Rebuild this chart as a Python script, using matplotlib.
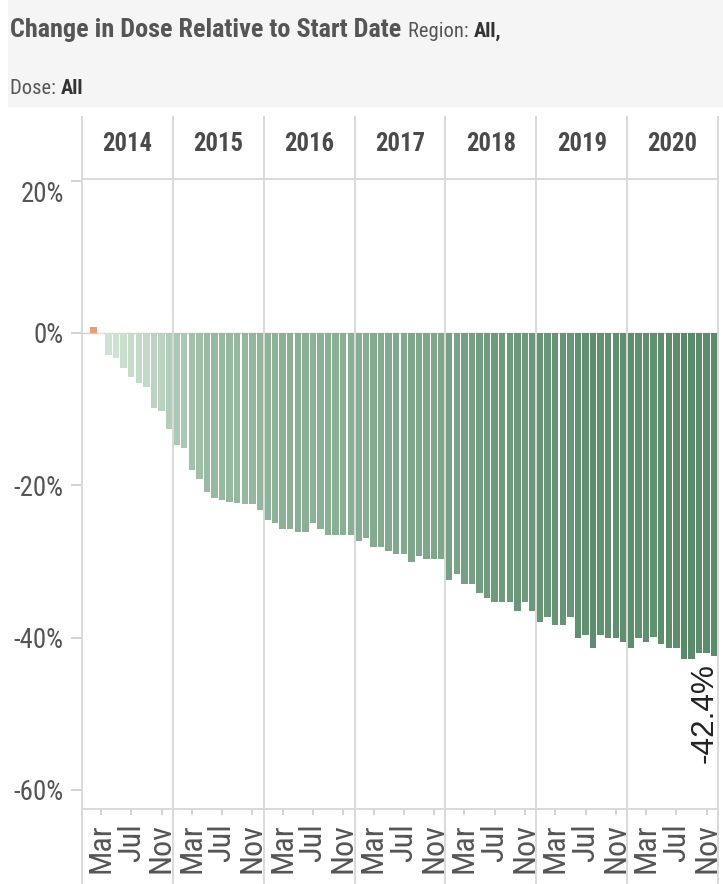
import numpy as np
import matplotlib.pyplot as plt
from matplotlib import font_manager
from matplotlib.colors import LinearSegmentedColormap, Normalize
from matplotlib.patches import Rectangle

# data: monthly change in dose vs start date (%)
years = ['2014', '2015', '2016', '2017', '2018', '2019', '2020']
month_labels = ['Mar', 'Jul', 'Nov']
month_idx = [2, 6, 10]

chg_2014 = [0.0, 0.8, -0.2, -2.9, -3.3, -4.6, -5.8, -6.6, -7.1, -9.8, -10.2, -12.6]
chg_2015 = [-14.7, -15.1, -18.0, -19.2, -20.9, -21.7, -21.9, -22.2, -22.3, -22.4, -22.4, -23.2]
chg_2016 = [-24.5, -24.9, -25.7, -25.7, -26.1, -26.1, -24.9, -25.7, -26.5, -26.5, -26.5, -26.5]
chg_2017 = [-27.3, -26.9, -28.1, -28.1, -28.6, -29.0, -29.0, -30.1, -29.3, -29.7, -29.7, -29.7]
chg_2018 = [-32.5, -31.6, -32.9, -32.9, -34.1, -34.8, -35.3, -35.3, -35.3, -36.5, -35.3, -36.5]
chg_2019 = [-38.0, -37.3, -38.4, -38.4, -37.3, -40.1, -39.6, -41.3, -39.6, -40.1, -40.1, -40.6]
chg_2020 = [-41.3, -40.1, -40.6, -39.9, -40.9, -41.4, -41.4, -42.8, -42.8, -42.0, -42.0, -42.4]

change = np.array(chg_2014 + chg_2015 + chg_2016 + chg_2017 + chg_2018 + chg_2019 + chg_2020)
n = len(change)

# fonts: prefer a narrow sans if one is installed
names = {f.name for f in font_manager.fontManager.ttflist}
fam, stretch = 'Liberation Sans', 'normal'
for c in ['Liberation Sans Narrow', 'Arial Narrow', 'Roboto Condensed',
          'Open Sans Condensed', 'Noto Sans Condensed']:
    if c in names:
        fam = c
        break
else:
    for base in ['Roboto', 'Noto Sans', 'Open Sans']:
        if any(f.name == base and f.stretch in ('condensed', 'semi-condensed')
               for f in font_manager.fontManager.ttflist):
            fam, stretch = base, 'condensed'
            break
plt.rcParams['font.family'] = [fam, 'DejaVu Sans']
plt.rcParams['font.stretch'] = stretch

W, H = 723, 884
fig = plt.figure(figsize=(W / 100, H / 100), dpi=100)
r = fig.canvas.get_renderer()


def fit(txt, target, **kw):
    # font size that gives the text the pixel width seen in the reference
    t = fig.text(0, 0, txt, fontsize=10, **kw)
    w = t.get_window_extent(r).width
    t.remove()
    return 10 * target / w


# title band
fig.patches.append(Rectangle((8 / W, 1 - 107 / H), 1, 107 / H, transform=fig.transFigure,
                             facecolor='#f5f5f5', edgecolor='none', zorder=0))

ax = fig.add_axes([82 / W, 1 - 809 / H, 636 / W, 630 / H])

cmap = LinearSegmentedColormap.from_list('grn', ['#588a69', '#d8e9da'])
norm = Normalize(-43, 0)
colors = ['#f09a78' if v > 0 else cmap(norm(v)) for v in change]

x = np.arange(n) + 0.5
ax.axhline(0, color='#cfcfcf', lw=1, zorder=1)
ax.bar(x, change, width=0.86, color=colors, zorder=2)

ax.set_xlim(0, n)
ax.set_ylim(-62.5, 20.2)

for s in ax.spines.values():
    s.set_visible(False)

line_kw = dict(color='#d9d9d9', lw=1.4, clip_on=False, zorder=3)
lo = -(H - 809) / 630
hi = 1 + (179 - 117) / 630
for k in range(len(years) + 1):
    ax.axvline(12 * k, ymin=lo, ymax=hi, **line_kw)
ax.axhline(ax.get_ylim()[1], xmin=0, xmax=1, **line_kw)
ax.axhline(ax.get_ylim()[0], xmin=0, xmax=1, **line_kw)

# year header
fs_year = fit('2014', 50, fontweight='bold')
for k, yr in enumerate(years):
    ax.text(12 * k + 6, (809 - 144) / 630, yr, transform=ax.get_xaxis_transform(),
            ha='center', va='center', fontsize=fs_year, fontweight='bold', color='#4a4a4a')

# y axis
fs_y = fit('-40%', 50)
yt = [20, 0, -20, -40, -60]
ax.set_yticks(yt)
ax.set_yticklabels([f'{v}%' for v in yt])
ax.tick_params(axis='y', length=8, color='#cccccc', width=1.2, pad=5,
               labelsize=fs_y, labelcolor='#555555')
ax.get_yticklabels()[0].set_verticalalignment('top')

# x axis months
fs_m = fit('Mar', 50)
xt = [12 * k + m + 0.5 for k in range(len(years)) for m in month_idx]
ax.set_xticks(xt)
ax.set_xticklabels(month_labels * len(years), rotation=90, va='top')
ax.tick_params(axis='x', length=4, color='#cccccc', width=1.2, pad=6,
               labelsize=fs_m, labelcolor='#555555')

# last value label
lab = f'{change[-1]:.1f}%'
fs_lab = fit(lab, 100, family='Liberation Sans')
ax.annotate(lab, xy=(x[-1], change[-1]), xytext=(-7, -5),
            textcoords='offset points', rotation=90, ha='center', va='top',
            fontsize=fs_lab, family='Liberation Sans', color='#222222')

# title
t1 = fig.text(10 / W, 1 - 37 / H, 'Change in Dose Relative to Start Date',
              fontsize=fit('Change in Dose Relative to Start Date', 392, fontweight='bold'),
              fontweight='bold', color='#555555', va='baseline')
fs_sub = fit('Region:', 60)
bb = t1.get_window_extent(r)
t2 = fig.text((bb.x1 + 7) / W, 1 - 37 / H, 'Region: ', fontsize=fs_sub, color='#555555', va='baseline')
bb = t2.get_window_extent(r)
fig.text(bb.x1 / W, 1 - 37 / H, 'All,', fontsize=fs_sub, fontweight='bold', color='#333333', va='baseline')
t3 = fig.text(10 / W, 1 - 94 / H, 'Dose: ', fontsize=fs_sub, color='#555555', va='baseline')
bb = t3.get_window_extent(r)
fig.text(bb.x1 / W, 1 - 94 / H, 'All', fontsize=fs_sub, fontweight='bold', color='#333333', va='baseline')

fig.savefig('out.png', dpi=100)
